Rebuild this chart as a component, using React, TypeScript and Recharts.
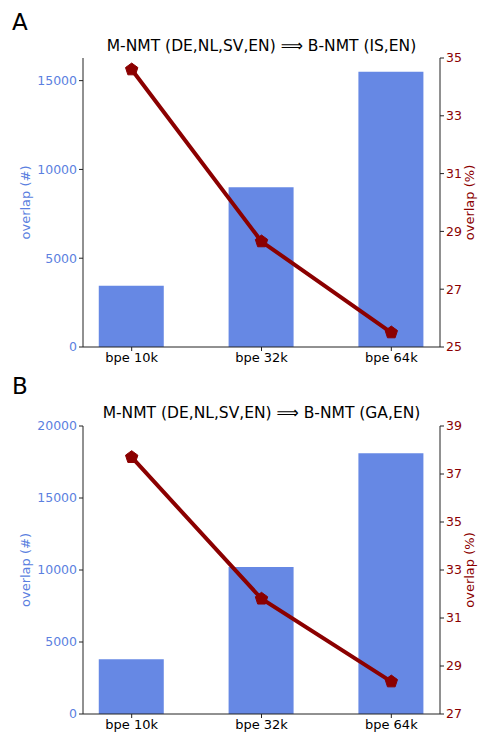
import React from 'react';
import { ComposedChart, Bar, Line, XAxis, YAxis } from 'recharts';

const categories = ['bpe 10k', 'bpe 32k', 'bpe 64k'];
const positions = [0, 1, 2];

const countsA = [3450, 9000, 15500];
const pctA = [34.6, 28.65, 25.5];
const countsB = [3800, 10200, 18100];
const pctB = [37.7, 31.8, 28.35];

const titleA = 'M-NMT (DE,NL,SV,EN) \u27F9 B-NMT (IS,EN)';
const titleB = 'M-NMT (DE,NL,SV,EN) \u27F9 B-NMT (GA,EN)';

const leftTicksA = [0, 5000, 10000, 15000];
const rightTicksA = [25, 27, 29, 31, 33, 35];
const leftTicksB = [0, 5000, 10000, 15000, 20000];
const rightTicksB = [27, 29, 31, 33, 35, 37, 39];

const FONT = '"DejaVu Sans", sans-serif';
const BLUE = '#6688E4';
const BLUE_TEXT = '#5B7FE0';
const RED = '#8B0000';
const AXIS = '#222';

const Pentagon = (props: any) => {
  const { cx, cy } = props;
  if (cx == null || cy == null) return null;
  const r = 6.5;
  const pts: string[] = [];
  for (let k = 0; k < 5; k++) {
    const a = ((-90 + 72 * k) * Math.PI) / 180;
    pts.push(`${cx + r * Math.cos(a)},${cy + r * Math.sin(a)}`);
  }
  return <polygon key={`p-${cx}-${cy}`} points={pts.join(' ')} fill={RED} stroke={RED} strokeWidth={1} />;
};

const leftLabel = (p: any) => {
  const vb = p.viewBox || {};
  const x = vb.x + 2;
  const y = vb.y + vb.height / 2;
  return (
    <text x={x} y={y} transform={`rotate(-90, ${x}, ${y})`} textAnchor="middle" dominantBaseline="central"
      fill={BLUE_TEXT} fontSize={13} fontFamily={FONT}>overlap (#)</text>
  );
};

const rightLabel = (p: any) => {
  const vb = p.viewBox || {};
  const x = vb.x + 29;
  const y = vb.y + vb.height / 2;
  return (
    <text x={x} y={y} transform={`rotate(-90, ${x}, ${y})`} textAnchor="middle" dominantBaseline="central"
      fill={RED} fontSize={13} fontFamily={FONT}>overlap (%)</text>
  );
};

type PanelProps = {
  counts: number[];
  pct: number[];
  leftDomain: [number, number];
  rightDomain: [number, number];
  leftTicks: number[];
  rightTicks: number[];
  height: number;
  marginBottom: number;
};

const Panel = ({ counts, pct, leftDomain, rightDomain, leftTicks, rightTicks, height, marginBottom }: PanelProps) => {
  const data = positions.map((x, i) => ({ x, count: counts[i], pct: pct[i] }));
  return (
    <ComposedChart width={482} height={height} data={data}
      margin={{ top: 58, right: 0, bottom: marginBottom, left: 23 }}>
      <XAxis dataKey="x" type="number" domain={[-0.375, 2.375]} ticks={positions}
        tickFormatter={(v: number) => categories[v]} allowDataOverflow
        height={20} tickSize={4} tickMargin={2}
        stroke={AXIS} tick={{ fontSize: 13, fontFamily: FONT, fill: '#000' }} />
      <XAxis xAxisId="top" orientation="top" type="number" domain={[-0.375, 2.375]}
        tick={false} tickLine={false} height={0} stroke={AXIS} />
      <YAxis yAxisId="left" orientation="left" width={60} domain={leftDomain} ticks={leftTicks}
        allowDataOverflow tickSize={4} tickMargin={2} stroke={AXIS}
        tick={{ fontSize: 12.5, fontFamily: FONT, fill: BLUE_TEXT }} label={{ content: leftLabel }} />
      <YAxis yAxisId="right" orientation="right" width={42} domain={rightDomain} ticks={rightTicks}
        allowDataOverflow tickSize={4} tickMargin={2} stroke={AXIS}
        tick={{ fontSize: 12.5, fontFamily: FONT, fill: RED }} label={{ content: rightLabel }} />
      <Bar yAxisId="left" dataKey="count" fill={BLUE} barSize={65} isAnimationActive={false} />
      <Line yAxisId="right" dataKey="pct" stroke={RED} strokeWidth={4} dot={Pentagon}
        activeDot={false} isAnimationActive={false} />
    </ComposedChart>
  );
};

const abs = (top: number, left: number): React.CSSProperties => ({ position: 'absolute', top, left });

export default function App() {
  return (
    <div style={{ position: 'absolute', top: 0, left: 0, width: 482, height: 734, background: '#fff', fontFamily: FONT }}>
      <div style={{ ...abs(9, 12), fontSize: 23, lineHeight: '26px', color: '#000' }}>A</div>
      <div style={{ ...abs(36, 63), width: 397, textAlign: 'center', fontSize: 15.5, lineHeight: '20px', color: '#000', whiteSpace: 'nowrap' }}>{titleA}</div>
      <div style={abs(0, 0)}>
        <Panel counts={countsA} pct={pctA} leftDomain={[0, 16275]} rightDomain={[25, 35]}
          leftTicks={leftTicksA} rightTicks={rightTicksA} height={368} marginBottom={1} />
      </div>
      <div style={{ ...abs(373, 12), fontSize: 23, lineHeight: '26px', color: '#000' }}>B</div>
      <div style={{ ...abs(403, 63), width: 397, textAlign: 'center', fontSize: 15.5, lineHeight: '20px', color: '#000', whiteSpace: 'nowrap' }}>{titleB}</div>
      <div style={abs(368, 0)}>
        <Panel counts={countsB} pct={pctB} leftDomain={[0, 20000]} rightDomain={[27, 39]}
          leftTicks={leftTicksB} rightTicks={rightTicksB} height={366} marginBottom={0} />
      </div>
    </div>
  );
}
